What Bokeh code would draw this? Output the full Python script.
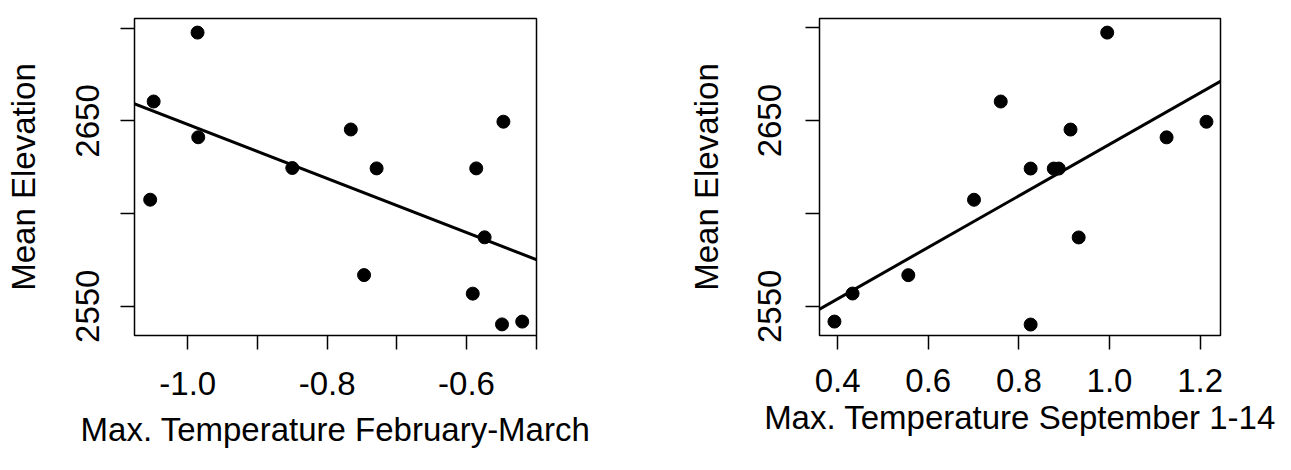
import numpy as np
from bokeh.plotting import figure
from bokeh.layouts import row
from bokeh.models import FixedTicker, Slope, Range1d, PrintfTickFormatter
from bokeh.embed import file_html
from bokeh.resources import INLINE

# ---- data ----
temp_feb = [-0.986, -1.049, -0.985, -0.850, -1.054, -0.766, -0.547,
            -0.729, -0.586, -0.574, -0.747, -0.591, -0.549, -0.520]
elev_feb = [2697.7, 2660.5, 2641.2, 2624.6, 2607.5, 2645.4, 2649.6,
            2624.4, 2624.4, 2587.2, 2566.8, 2556.8, 2540.2, 2541.7]

temp_sep = [0.760, 0.701, 0.556, 0.433, 0.393, 0.995, 0.914,
            1.214, 1.126, 0.826, 0.877, 0.888, 0.932, 0.826]
elev_sep = [2660.3, 2607.4, 2566.8, 2556.9, 2541.8, 2697.4, 2645.2,
            2649.4, 2641.0, 2624.2, 2624.2, 2624.2, 2587.1, 2540.2]

y_major = [2550, 2650]
y_minor = [2600, 2700]
feb_major = [-1.0, -0.8, -0.6]
feb_minor = [-0.9, -0.7, -0.5]
sep_major = [0.4, 0.6, 0.8, 1.0, 1.2]

y_label = "Mean Elevation"
feb_label = "Max. Temperature February-March"
sep_label = "Max. Temperature September 1-14"

FONT = "Liberation Sans"
FS = "33px"


def make_panel(xs, ys, xlabel, xr, yr, xmaj, xmin_, width, borders, offs):
    bl, br, bt, bb = borders
    x_std, x_lab_std, y_std, y_lab_std = offs
    p = figure(width=width, height=470, output_backend="svg",
               toolbar_location=None, x_range=Range1d(*xr), y_range=Range1d(*yr),
               min_border_left=bl, min_border_right=br,
               min_border_top=bt, min_border_bottom=bb)
    p.background_fill_color = "white"
    p.border_fill_color = "white"
    p.outline_line_color = "black"
    p.outline_line_width = 1.5
    p.xgrid.visible = False
    p.ygrid.visible = False

    p.xaxis.ticker = FixedTicker(ticks=xmaj, minor_ticks=xmin_)
    p.yaxis.ticker = FixedTicker(ticks=y_major, minor_ticks=y_minor)
    p.xaxis.formatter = PrintfTickFormatter(format="%.1f")
    p.yaxis.formatter = PrintfTickFormatter(format="%d")
    for ax in (p.xaxis, p.yaxis):
        ax.axis_line_color = None
        ax.major_tick_out = 14
        ax.major_tick_in = 0
        ax.minor_tick_out = 14
        ax.minor_tick_in = 0
        ax.major_tick_line_color = "black"
        ax.minor_tick_line_color = "black"
        ax.major_tick_line_width = 1.5
        ax.minor_tick_line_width = 1.5
        ax.major_label_text_font = FONT
        ax.major_label_text_font_size = FS
        ax.major_label_text_color = "black"
        ax.axis_label_text_font = FONT
        ax.axis_label_text_font_size = FS
        ax.axis_label_text_font_style = "normal"
        ax.axis_label_text_color = "black"
    p.yaxis.major_label_orientation = "vertical"
    p.xaxis.axis_label = xlabel
    p.yaxis.axis_label = y_label
    p.xaxis.major_label_standoff = x_std
    p.xaxis.axis_label_standoff = x_lab_std
    p.yaxis.major_label_standoff = y_std
    p.yaxis.axis_label_standoff = y_lab_std

    p.scatter(xs, ys, size=13, color="black")
    b, a = np.polyfit(np.array(xs), np.array(ys), 1)
    p.add_layout(Slope(gradient=b, y_intercept=a, line_color="black", line_width=3))
    return p


left = make_panel(temp_feb, elev_feb, feb_label, (-1.0765, -0.4995), (2534.2, 2705.3),
                  feb_major, feb_minor, 645, (134, 109, 18, 127), (22, 13, 21, 32))
right = make_panel(temp_sep, elev_sep, sep_label, (0.360, 1.245), (2534.3, 2705.0),
                   sep_major, [], 646, (174, 71, 10, 135), (19, 4, 24, 31))

layout = row(left, right, spacing=0)
open("out.html", "w").write(file_html(layout, INLINE))
